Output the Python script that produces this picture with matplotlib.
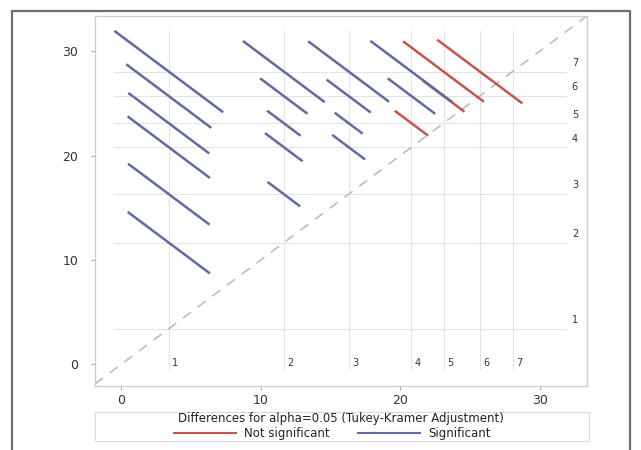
import matplotlib
matplotlib.use("Agg")
import matplotlib.pyplot as plt
from matplotlib.patches import Rectangle
from matplotlib.lines import Line2D

# ---- data ----
group_labels = ["1", "2", "3", "4", "5", "6", "7"]
group_means = [3.4, 11.65, 16.3, 20.8, 23.1, 25.7, 28.05]

# pairs (i, j) with i < j : center at (mean_i, mean_j)
pair_i = [1, 1, 1, 1, 1, 1, 2, 2, 2, 2, 2, 3, 3, 3, 3, 4, 4, 5, 4, 5, 6]
pair_j = [2, 3, 4, 5, 6, 7, 3, 4, 5, 6, 7, 4, 5, 6, 7, 5, 6, 6, 7, 7, 7]
# half CI of the difference (each axis projection of half segment)
half_len = [2.95, 2.92, 2.95, 2.9, 3.05, 3.9,
            1.17, 1.35, 1.2, 1.7, 2.93,
            1.18, 1.0, 1.58, 2.9,
            1.2, 1.7, 1.5, 2.95, 2.9, 3.05]
significant = [True, True, True, True, True, True,
               True, True, True, True, True,
               True, True, True, True,
               False, True, False, True, False, False]

xlim = (-1.9, 33.4)
ylim = (-2.1, 33.4)
ref_lo, ref_hi = -0.5, 31.9
ticks = [0, 10, 20, 30]

SIG = "#636AA3"
NSIG = "#C4564C"

fig = plt.figure(figsize=(6.41, 4.5), dpi=100)
ax = fig.add_axes([0.148, 0.142, 0.768, 0.823])
ax.set_xlim(*xlim)
ax.set_ylim(*ylim)

# reference lines at group means
for m in group_means:
    ax.plot([m, m], [ref_lo, ref_hi], color="#E4E4E4", lw=0.8, zorder=1)
    ax.plot([ref_lo, ref_hi], [m, m], color="#E4E4E4", lw=0.8, zorder=1)

# diagonal
ax.axline((0, 0), slope=1, color="#BDBDBD", lw=1.2, dashes=(6, 5), zorder=2)

# segments (not significant first so significant draw on top)
order = sorted(range(len(pair_i)), key=lambda k: significant[k])
for k in order:
    cx = group_means[pair_i[k] - 1]
    cy = group_means[pair_j[k] - 1]
    h = half_len[k]
    col = SIG if significant[k] else NSIG
    ax.plot([cx - h, cx + h], [cy + h, cy - h], color=col, lw=1.8,
            solid_capstyle="butt", zorder=3)

# group labels
for lab, m in zip(group_labels, group_means):
    ax.text(m + 0.25, 0.1, lab, fontsize=7, color="#333333",
            ha="left", va="center")
    ax.text(32.3, m + 0.35, lab, fontsize=7, color="#333333",
            ha="left", va="bottom")

ax.set_xticks(ticks)
ax.set_yticks(ticks)
ax.tick_params(direction="out", length=3, width=0.8, color="#AAAAAA",
               labelsize=9, labelcolor="#333333")
ax.tick_params(axis="y", pad=9)
ax.tick_params(axis="x", pad=3)
for s in ax.spines.values():
    s.set_color("#CFCFCF")
    s.set_linewidth(1.0)

# legend box
lb = Rectangle((0.148, 0.02), 0.771, 0.064, transform=fig.transFigure,
               fill=False, edgecolor="#DADADA", lw=0.8)
fig.patches.append(lb)
fig.text(0.532, 0.0705, "Differences for alpha=0.05 (Tukey-Kramer Adjustment)",
         ha="center", va="center", fontsize=8.5, color="#222222")
fig.lines.append(Line2D([174 / 641, 236 / 641], [0.037, 0.037],
                        transform=fig.transFigure, color=NSIG, lw=1.5))
fig.text(244 / 641, 0.037, "Not significant", ha="left", va="center",
         fontsize=8.5, color="#222222")
fig.lines.append(Line2D([358 / 641, 420 / 641], [0.037, 0.037],
                        transform=fig.transFigure, color=SIG, lw=1.5))
fig.text(428 / 641, 0.037, "Significant", ha="left", va="center",
         fontsize=8.5, color="#222222")

# outer frame (left, top, right)
fx0, fx1, fy1 = 11.5 / 641, 630 / 641, 1 - 10.5 / 450
fig.lines.append(Line2D([fx0, fx0, fx1, fx1], [-0.01, fy1, fy1, -0.01],
                        transform=fig.transFigure, color="#6E6E6E", lw=1.6))

fig.savefig("out.png", dpi=100, facecolor="white")
